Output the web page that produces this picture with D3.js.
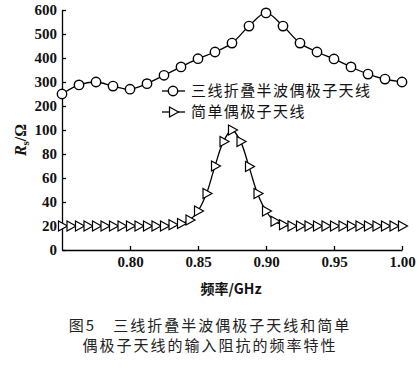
<!DOCTYPE html>
<html><head><meta charset="utf-8">
<script src="https://cdn.jsdelivr.net/npm/d3@7"></script>
<style>
body{margin:0;background:#fff;}
svg{display:block;}
</style></head>
<body>
<svg id="c" width="419" height="376"></svg>
<script>
// Data
const freqCircle = [0.75,0.7625,0.775,0.7875,0.8,0.8125,0.825,0.8375,0.85,0.8625,0.875,0.8875,0.9,0.9125,0.925,0.9375,0.95,0.9625,0.975,0.9875,1.0];
const valCircle = [250,288,300,283,270,293,328,363,397,425,462,533,588,533,462,425,396,363,333,312,300];
const freqTri = [0.75,0.75625,0.7625,0.76875,0.775,0.78125,0.7875,0.79375,0.8,0.80625,0.8125,0.81875,0.825,0.83125,0.8375,0.84375,0.85,0.85625,0.8625,0.86875,0.875,0.88125,0.8875,0.89375,0.9,0.90625,0.9125,0.91875,0.925,0.93125,0.9375,0.94375,0.95,0.95625,0.9625,0.96875,0.975,0.98125,0.9875,0.99375,1.0];
const valTri = [20,20,20,20,20,20,20,20,20,20,20,20,20,21,22,25,32.5,47,70,90.5,100,90.5,69.5,47,32.5,24,21,20,20,20,20,20,20,20,20,20,20,20,20,20,20];
const xTicks = [0.80,0.85,0.90,0.95,1.00];
const yTicks = [0,20,40,60,80,100,200,300,400,500,600];
const seriesNames = ["三线折叠半波偶极子天线","简单偶极子天线"];
const xTitle = "频率/GHz";
const captionLines = ["图5　三线折叠半波偶极子天线和简单","偶极子天线的输入阻抗的频率特性"];

const svg = d3.select("#c");
const x = d3.scaleLinear().domain([0.75,1.0]).range([62,402]);
const y = d3.scaleLinear().domain([0,100,600]).range([250,130,10]);
const serif = "'Liberation Serif','DejaVu Serif',serif";
const cjk = "'Noto Sans CJK SC',sans-serif";

// axes
const gx = svg.append("g").attr("transform","translate(0,250)")
  .call(d3.axisBottom(x).tickValues(xTicks).tickFormat(d3.format(".2f")).tickSizeInner(-4).tickSizeOuter(0).tickPadding(3));
gx.select(".domain").attr("stroke","#000").attr("stroke-width",1.3);
gx.selectAll("line").attr("stroke","#000").attr("stroke-width",1.3);
gx.selectAll("text").attr("font-family",serif).attr("font-size",15).attr("font-weight","bold").attr("fill","#111").attr("dy","0.95em");

const gy = svg.append("g").attr("transform","translate(62,0)")
  .call(d3.axisLeft(y).tickValues(yTicks).tickSizeInner(-4).tickSizeOuter(0).tickPadding(5));
gy.select(".domain").attr("stroke","#000").attr("stroke-width",1.3);
gy.selectAll("line").attr("stroke","#000").attr("stroke-width",1.3);
gy.selectAll("text").attr("font-family",serif).attr("font-size",15).attr("font-weight","bold").attr("fill","#111");

// lines
const line = d3.line().curve(d3.curveCatmullRom.alpha(0.5));
svg.append("path").attr("d", line(freqCircle.map((f,i)=>[x(f),y(valCircle[i])])))
  .attr("fill","none").attr("stroke","#000").attr("stroke-width",1.3);
svg.append("path").attr("d", line(freqTri.map((f,i)=>[x(f),y(valTri[i])])))
  .attr("fill","none").attr("stroke","#000").attr("stroke-width",1.3);

// markers
svg.append("g").selectAll("circle").data(freqCircle).join("circle")
  .attr("cx",d=>x(d)).attr("cy",(d,i)=>y(valCircle[i])).attr("r",4.7)
  .attr("fill","#fff").attr("stroke","#000").attr("stroke-width",1.4);
const tri = "M-3.5,-5L5.5,0L-3.5,5Z";
svg.append("g").selectAll("path").data(freqTri).join("path")
  .attr("transform",(d,i)=>`translate(${x(d)},${y(valTri[i])})`).attr("d",tri)
  .attr("fill","#fff").attr("stroke","#000").attr("stroke-width",1.2);

// legend
const leg = svg.append("g");
[0,1].forEach(i=>{
  const ly = 91 + i*21;
  leg.append("line").attr("x1",162).attr("x2",185).attr("y1",ly).attr("y2",ly).attr("stroke","#000").attr("stroke-width",1.3);
  if(i===0) leg.append("circle").attr("cx",173).attr("cy",ly).attr("r",4.7).attr("fill","#fff").attr("stroke","#000").attr("stroke-width",1.4);
  else leg.append("path").attr("transform",`translate(173,${ly})`).attr("d",tri).attr("fill","#fff").attr("stroke","#000").attr("stroke-width",1.2);
  leg.append("text").attr("x",191).attr("y",ly).attr("dy","0.36em").attr("font-family",cjk).attr("font-size",15).attr("letter-spacing","1.4px").attr("fill","#111").text(seriesNames[i]);
});

// axis titles
svg.append("text").attr("x",231).attr("y",294).attr("text-anchor","middle").attr("font-family",cjk).attr("font-size",14).attr("font-weight","bold").attr("fill","#111")
  .text(xTitle);
const yt = svg.append("text").attr("transform","translate(26,140) rotate(-90)").attr("text-anchor","middle").attr("font-family",serif).attr("font-size",16).attr("font-weight","bold").attr("fill","#111");
yt.append("tspan").attr("font-style","italic").text("R");
yt.append("tspan").attr("font-size",11).attr("dy",3).text("s");
yt.append("tspan").attr("dy",-3).text("/Ω");

// caption
captionLines.forEach((t,i)=>{
  svg.append("text").attr("x",210).attr("y",331+i*20).attr("text-anchor","middle").attr("font-family",cjk).attr("font-size",15).attr("letter-spacing","2px").attr("fill","#222").text(t);
});
</script>
</body></html>
